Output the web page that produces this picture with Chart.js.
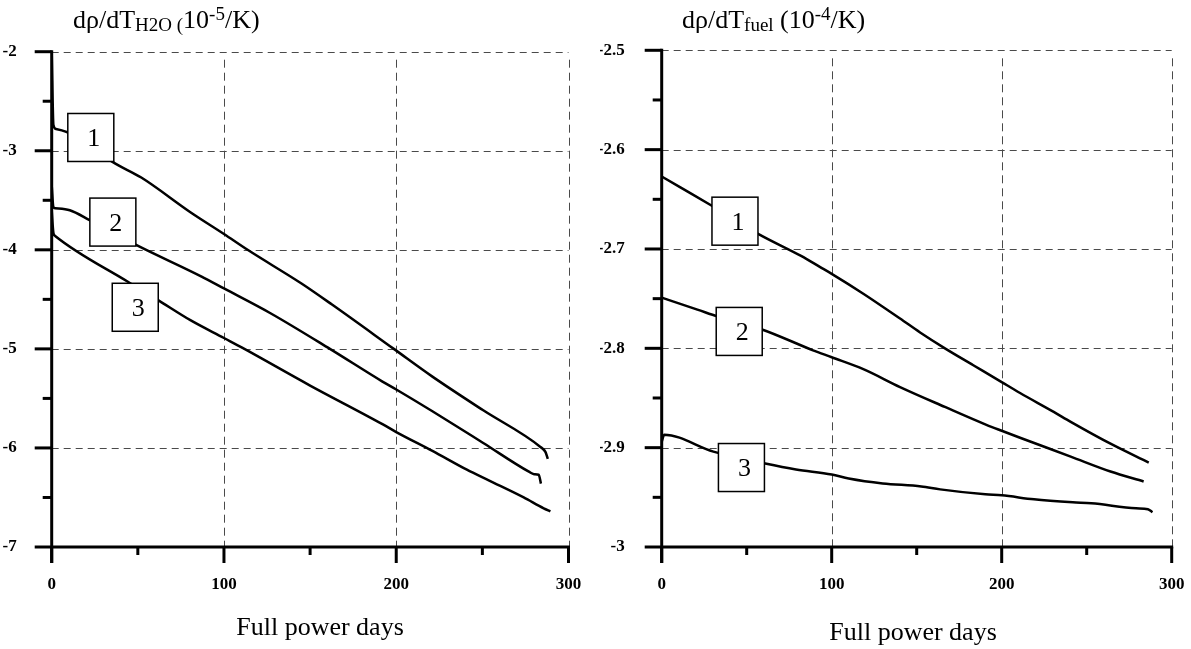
<!DOCTYPE html>
<html>
<head>
<meta charset="utf-8">
<script src="https://cdn.jsdelivr.net/npm/chart.js@4.4.1/dist/chart.umd.min.js"></script>
<style>
  html, body { margin: 0; padding: 0; background: #fff; }
  #wrap { position: relative; width: 1191px; height: 649px; overflow: hidden; background: #fff; }
  canvas { position: absolute; top: 0; }
  #cL { left: 0; }
  #cR { left: 600px; }
</style>
</head>
<body>
<div id="wrap">
  <canvas id="cL" width="600" height="649"></canvas>
  <canvas id="cR" width="591" height="649"></canvas>
</div>
<script>
// ---------- shared axis data ----------
const dayTicks = [0, 100, 200, 300];
const dayTickLabels = ['0', '100', '200', '300'];
const dayMinorTicks = [50, 150, 250];
const curveNames = ['1', '2', '3'];

// ---------- moderator temperature coefficient (10^-5 /K) ----------
const waterTicks = [-2, -3, -4, -5, -6, -7];
const waterTickLabels = ['-2', '-3', '-4', '-5', '-6', '-7'];
const waterMinorTicks = [-2.5, -3.5, -4.5, -5.5, -6.5];

const water1Days   = [0, 1, 2.5, 8.5, 22, 36, 52, 80.5, 100, 113.7, 145, 162.5, 198.6, 221, 250.5, 283.7, 286.6, 288];
const water1Values = [-2.0, -2.74, -2.78, -2.81, -2.95, -3.12, -3.27, -3.62, -3.84, -4.0, -4.34, -4.55, -5.0, -5.28, -5.62, -5.99, -6.04, -6.11];

const water2Days   = [0, 1, 2, 10.5, 22, 49, 87, 100, 127, 161.5, 192, 200, 221, 250.5, 277, 280, 282.7, 284];
const water2Values = [-3.35, -3.57, -3.58, -3.6, -3.7, -3.95, -4.27, -4.39, -4.64, -5.0, -5.33, -5.41, -5.63, -5.95, -6.24, -6.265, -6.27, -6.36];

const water3Days   = [0, 1, 2, 44, 62, 80.5, 100, 110.8, 150, 192, 200, 221, 241, 254, 274, 285.6, 289.5];
const water3Values = [-3.6, -3.83, -3.86, -4.32, -4.51, -4.71, -4.89, -4.99, -5.37, -5.76, -5.84, -6.03, -6.22, -6.33, -6.5, -6.61, -6.64];

const waterLabelDays   = [22.7, 35.5, 48.5];
const waterLabelValues = [-2.866, -3.72, -4.58];

// ---------- fuel temperature coefficient (10^-4 /K) ----------
const fuelTicks = [-2.5, -2.6, -2.7, -2.8, -2.9, -3];
const fuelTickLabels = ['-2.5', '-2.6', '-2.7', '-2.8', '-2.9', '-3'];
const fuelMinorTicks = [-2.55, -2.65, -2.75, -2.85, -2.95];

const fuel1Days   = [0, 11, 30, 57, 82, 93, 100, 118.6, 140.2, 152, 166.6, 183.3, 200, 210.8, 230.6, 240.6, 264, 286.5];
const fuel1Values = [-2.627, -2.638, -2.657, -2.685, -2.707, -2.718, -2.725, -2.745, -2.77, -2.784, -2.8, -2.817, -2.834, -2.845, -2.864, -2.874, -2.896, -2.915];

const fuel2Days   = [0, 21, 33, 59, 89, 100, 118.6, 140.2, 166.6, 191, 200, 210.8, 240.6, 264, 283.5];
const fuel2Values = [-2.749, -2.761, -2.768, -2.781, -2.802, -2.809, -2.821, -2.839, -2.859, -2.877, -2.883, -2.89, -2.909, -2.924, -2.934];

const fuel3Days   = [0, 1.5, 30.4, 60.9, 79, 100, 110, 130, 152.7, 163.8, 190.4, 200, 219, 241.8, 252.7, 279, 286, 288.7];
const fuel3Values = [-2.894, -2.887, -2.904, -2.916, -2.922, -2.927, -2.931, -2.936, -2.939, -2.942, -2.947, -2.948, -2.952, -2.955, -2.956, -2.961, -2.962, -2.965];

const fuelLabelDays   = [43.1, 45.6, 46.9];
const fuelLabelValues = [-2.672, -2.783, -2.92];

// ---------- drawing helpers ----------
const SERIF = "'Liberation Serif', 'Times New Roman', Times, serif";

function toPoints(days, values) {
  return days.map((d, i) => ({ x: d, y: values[i] }));
}

function drawRichText(ctx, x, baseline, parts) {
  ctx.save();
  ctx.fillStyle = '#000';
  ctx.textAlign = 'left';
  ctx.textBaseline = 'alphabetic';
  let cx = x;
  parts.forEach(p => {
    ctx.font = p.size + 'px ' + SERIF;
    ctx.fillText(p.text, cx, baseline + (p.dy || 0));
    cx += ctx.measureText(p.text).width;
  });
  ctx.restore();
}

function buildChart(canvasId, cfg) {
  const decor = {
    id: 'decor',
    beforeDatasetsDraw(chart) {
      const { ctx, chartArea: a, scales: { x, y } } = chart;
      ctx.save();
      ctx.strokeStyle = '#4a4a4a';
      ctx.lineWidth = 1;
      ctx.setLineDash([7, 5]);
      cfg.yTicks.forEach(v => {
        if (v === cfg.yMin) return;
        const py = Math.round(y.getPixelForValue(v)) + 0.5;
        ctx.beginPath(); ctx.moveTo(a.left, py); ctx.lineTo(a.right, py); ctx.stroke();
      });
      ctx.setLineDash([8, 5]);
      dayTicks.forEach(v => {
        if (v === 0) return;
        const px = Math.round(x.getPixelForValue(v)) + 0.5;
        ctx.beginPath(); ctx.moveTo(px, a.top + 8); ctx.lineTo(px, a.bottom); ctx.stroke();
      });
      ctx.restore();
    },
    afterDatasetsDraw(chart) {
      const { ctx, chartArea: a, scales: { x, y } } = chart;
      const seg = (x1, y1, x2, y2) => { ctx.beginPath(); ctx.moveTo(x1, y1); ctx.lineTo(x2, y2); ctx.stroke(); };
      ctx.save();
      ctx.strokeStyle = '#000';
      ctx.lineWidth = 3;
      ctx.lineCap = 'butt';
      // axis lines
      seg(a.left, a.top - 1.5, a.left, a.bottom + 16);
      seg(a.left, a.bottom, a.right + 1.5, a.bottom);
      // value-axis ticks
      cfg.yTicks.forEach(v => { const py = y.getPixelForValue(v); seg(a.left - 17, py, a.left, py); });
      cfg.yMinor.forEach(v => { const py = y.getPixelForValue(v); seg(a.left - 9, py, a.left, py); });
      // day-axis ticks
      dayTicks.forEach(v => { const px = x.getPixelForValue(v); seg(px, a.bottom, px, a.bottom + 16); });
      dayMinorTicks.forEach(v => { const px = x.getPixelForValue(v); seg(px, a.bottom, px, a.bottom + 8); });

      // numbered curve labels
      ctx.lineWidth = 1.5;
      ctx.font = '26px ' + SERIF;
      ctx.textAlign = 'center';
      ctx.textBaseline = 'middle';
      curveNames.forEach((name, i) => {
        const px = x.getPixelForValue(cfg.labelDays[i]);
        const py = y.getPixelForValue(cfg.labelValues[i]);
        ctx.fillStyle = '#fff';
        ctx.fillRect(px - 23, py - 24, 46, 48);
        ctx.strokeRect(px - 23, py - 24, 46, 48);
        ctx.fillStyle = '#000';
        ctx.fillText(name, px + 3, py + 2);
      });
      ctx.restore();

      // axis titles
      drawRichText(ctx, cfg.yTitleX, 28, cfg.yTitle);
      ctx.save();
      ctx.font = '26px ' + SERIF;
      ctx.fillStyle = '#000';
      ctx.textAlign = 'center';
      ctx.textBaseline = 'alphabetic';
      ctx.fillText('Full power days', cfg.xTitleX, cfg.xTitleY);
      ctx.restore();
    }
  };

  const tickFont = { family: SERIF, size: 17, weight: 'bold' };

  return new Chart(document.getElementById(canvasId), {
    type: 'line',
    data: {
      datasets: cfg.series.map(s => ({
        label: s.name,
        data: toPoints(s.days, s.values),
        borderColor: '#000',
        borderWidth: 2.5,
        pointRadius: 0,
        fill: false,
        cubicInterpolationMode: 'monotone'
      }))
    },
    options: {
      responsive: false,
      animation: false,
      devicePixelRatio: 1,
      layout: { padding: cfg.padding },
      plugins: { legend: { display: false }, tooltip: { enabled: false }, title: { display: false } },
      scales: {
        x: {
          type: 'linear',
          min: 0, max: 300,
          afterBuildTicks: s => { s.ticks = dayTicks.map(v => ({ value: v })); },
          afterFit: s => { s.height = cfg.xAxisHeight; },
          // invisible tick marks push the labels down without widening the side padding
          grid: { display: true, drawOnChartArea: false, drawTicks: true, tickLength: 25, tickWidth: 0, tickColor: 'rgba(0,0,0,0)' },
          border: { display: false },
          ticks: {
            autoSkip: false, maxRotation: 0, color: '#000', font: tickFont, padding: 2,
            callback: (v, i) => dayTickLabels[i]
          }
        },
        y: {
          type: 'linear',
          min: cfg.yMin, max: cfg.yMax,
          afterBuildTicks: s => { s.ticks = cfg.yTicks.map(v => ({ value: v })); },
          afterFit: s => { s.width = cfg.yAxisWidth; },
          grid: { display: false },
          border: { display: false },
          ticks: {
            autoSkip: false, color: '#000', font: tickFont, padding: cfg.yTickPadding,
            callback: (v, i) => cfg.yTickLabels[i]
          }
        }
      }
    },
    plugins: [decor]
  });
}

// ---------- left panel: water ----------
buildChart('cL', {
  series: [
    { name: curveNames[0], days: water1Days, values: water1Values },
    { name: curveNames[1], days: water2Days, values: water2Values },
    { name: curveNames[2], days: water3Days, values: water3Values }
  ],
  yMin: -7, yMax: -2,
  yTicks: waterTicks, yTickLabels: waterTickLabels, yMinor: waterMinorTicks,
  labelDays: waterLabelDays, labelValues: waterLabelValues,
  padding: { left: 0, right: 31.5, top: 51.7, bottom: 0 },
  yAxisWidth: 51.7, xAxisHeight: 102, yTickPadding: 27,
  yTitleX: 73,
  yTitle: [
    { text: 'dρ/dT', size: 26 },
    { text: 'H2O (', size: 19, dy: 3 },
    { text: '10', size: 26 },
    { text: '-5', size: 19, dy: -8 },
    { text: '/K)', size: 26 }
  ],
  xTitleX: 320, xTitleY: 635
});

// ---------- right panel: fuel ----------
buildChart('cR', {
  series: [
    { name: curveNames[0], days: fuel1Days, values: fuel1Values },
    { name: curveNames[1], days: fuel2Days, values: fuel2Values },
    { name: curveNames[2], days: fuel3Days, values: fuel3Values }
  ],
  yMin: -3, yMax: -2.5,
  yTicks: fuelTicks, yTickLabels: fuelTickLabels, yMinor: fuelMinorTicks,
  labelDays: fuelLabelDays, labelValues: fuelLabelValues,
  padding: { left: 0, right: 19.3, top: 50.3, bottom: 0 },
  yAxisWidth: 61.7, xAxisHeight: 102, yTickPadding: 29,
  yTitleX: 82,
  yTitle: [
    { text: 'dρ/dT', size: 26 },
    { text: 'fuel', size: 19, dy: 3 },
    { text: ' (10', size: 26 },
    { text: '-4', size: 19, dy: -8 },
    { text: '/K)', size: 26 }
  ],
  xTitleX: 313, xTitleY: 640
});
</script>
</body>
</html>
